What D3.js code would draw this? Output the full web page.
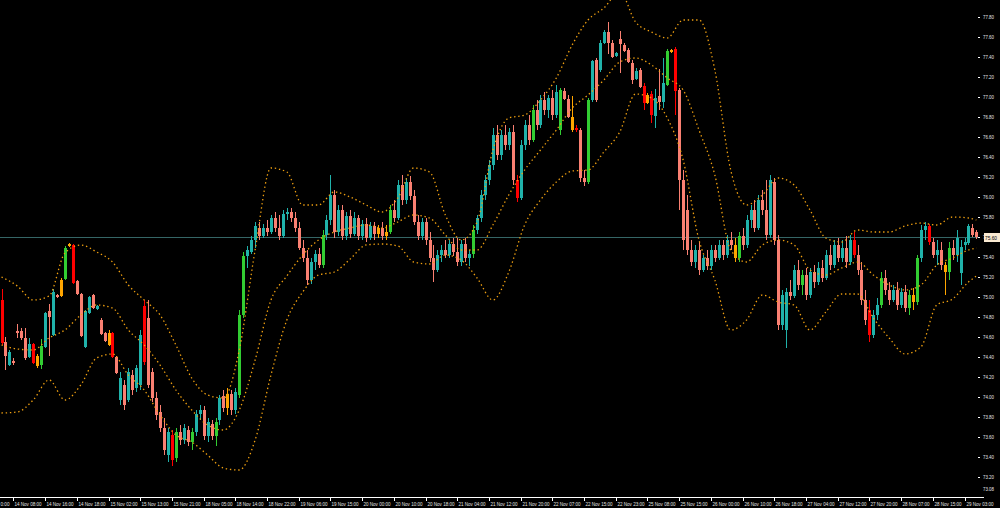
<!DOCTYPE html>
<html><head><meta charset="utf-8">
<script src="https://cdn.jsdelivr.net/npm/d3@7"></script>
<style>html,body{margin:0;padding:0;background:#000;}svg{display:block;}</style>
</head><body>
<svg id="c" width="1000" height="508"></svg>
<script>
const open = [74.97,74.55,74.32,74.36,74.66,74.66,74.59,74.40,74.53,74.41,
74.32,74.50,74.86,74.62,75.02,75.17,75.18,75.53,75.52,75.16,
75.03,74.50,74.84,75.02,74.88,74.77,74.64,74.64,74.64,74.40,
73.97,74.12,73.97,74.22,74.09,74.12,74.91,74.79,74.25,73.99,
73.85,73.69,73.42,73.62,73.39,73.65,73.57,73.67,73.55,73.65,
73.83,73.87,73.61,73.73,73.61,73.77,74.01,73.89,74.03,73.87,
74.02,74.82,75.41,75.45,75.57,75.69,75.61,75.69,75.65,75.79,
75.69,75.61,75.83,75.85,75.79,75.69,75.49,75.39,75.17,75.35,
75.43,75.32,75.62,75.77,76.02,75.65,75.87,75.61,75.81,75.63,
75.79,75.61,75.73,75.59,75.71,75.63,75.69,75.61,75.65,75.87,
75.79,76.12,75.97,76.15,76.01,75.75,75.61,75.75,75.57,75.39,
75.27,75.42,75.47,75.42,75.53,75.45,75.35,75.53,75.39,75.43,
75.67,75.79,76.02,76.17,76.32,76.62,76.42,76.62,76.52,76.65,
76.17,75.99,76.52,76.72,76.57,76.87,76.72,76.97,76.87,76.99,
76.82,76.67,77.06,76.98,76.80,76.69,76.67,76.19,76.15,76.97,
77.37,77.27,77.54,77.65,77.54,77.41,77.58,77.52,77.47,77.34,
77.18,77.27,77.11,77.02,77.03,76.81,77.01,76.95,77.12,77.47,
77.48,77.07,76.17,75.87,75.47,75.35,75.47,75.27,75.39,75.31,
75.47,75.39,75.52,75.42,75.57,75.52,75.39,75.61,75.52,75.77,
75.87,75.69,75.97,75.87,75.62,76.15,75.57,74.72,74.67,75.05,
75.01,75.27,75.12,75.22,75.02,75.25,75.15,75.29,75.19,75.42,
75.32,75.52,75.39,75.49,75.35,75.57,75.42,75.27,74.97,74.87,
74.62,74.82,74.92,75.19,75.07,74.97,75.07,74.92,75.05,74.89,
75.02,74.95,75.39,75.67,75.71,75.55,75.42,75.47,75.32,75.25,
75.49,75.42,75.24,75.52,75.54,75.69,75.65];
const high = [75.08,74.60,74.47,74.39,74.73,74.69,74.69,74.59,74.54,74.43,
74.58,74.85,74.93,75.08,75.03,75.19,75.51,75.54,75.53,75.17,
75.04,74.87,75.01,75.03,74.92,74.79,74.65,74.67,74.65,74.41,
74.25,74.17,74.29,74.27,74.32,74.67,74.97,74.97,74.29,74.05,
73.92,73.79,73.69,73.67,73.69,73.72,73.73,73.71,73.69,73.87,
73.92,73.91,73.79,73.77,73.79,74.02,74.07,74.09,74.07,74.09,
74.87,75.45,75.51,75.61,75.75,75.75,75.73,75.77,75.82,75.85,
75.82,75.87,75.89,75.89,75.85,75.75,75.57,75.47,75.39,75.47,
75.49,75.67,75.82,76.22,76.07,75.92,75.92,75.85,75.87,75.85,
75.82,75.77,75.79,75.75,75.75,75.72,75.75,75.72,75.92,75.97,
76.17,76.22,76.19,76.21,76.07,75.82,75.79,75.79,75.65,75.52,
75.47,75.52,75.57,75.57,75.59,75.59,75.57,75.59,75.47,75.72,
75.82,76.07,76.22,76.37,76.69,76.72,76.67,76.72,76.69,76.72,
76.22,76.57,76.77,76.82,76.92,76.97,77.02,77.05,77.02,77.07,
77.12,77.09,77.09,77.02,77.01,76.72,76.69,76.27,76.99,77.37,
77.39,77.57,77.67,77.75,77.57,77.45,77.66,77.54,77.49,77.37,
77.29,77.29,77.14,77.04,77.06,77.08,77.28,77.39,77.48,77.48,
77.50,77.09,76.27,76.02,75.57,75.52,75.55,75.42,75.47,75.52,
75.52,75.57,75.57,75.62,75.65,75.59,75.65,75.69,75.82,75.92,
75.97,76.02,76.07,76.17,76.22,76.19,75.62,75.07,75.09,75.17,
75.32,75.37,75.27,75.29,75.29,75.32,75.35,75.37,75.47,75.52,
75.57,75.59,75.57,75.61,75.62,75.65,75.52,75.35,75.07,74.97,
74.87,74.99,75.25,75.27,75.15,75.12,75.15,75.09,75.12,75.07,
75.09,75.42,75.72,75.75,75.73,75.59,75.57,75.55,75.35,75.55,
75.57,75.67,75.57,75.59,75.73,75.73,75.67];
const low = [74.52,74.27,74.31,74.32,74.59,74.57,74.37,74.39,74.33,74.29,
74.28,74.49,74.41,74.61,74.99,75.00,75.17,75.50,75.13,75.02,
74.60,74.49,74.83,74.88,74.87,74.62,74.55,74.51,74.39,74.23,
73.92,73.87,73.95,74.02,74.05,74.07,74.32,74.09,73.95,73.77,
73.65,73.42,73.35,73.31,73.35,73.52,73.53,73.51,73.47,73.61,
73.77,73.57,73.55,73.57,73.51,73.72,73.85,73.82,73.82,73.83,
73.99,74.79,75.29,75.43,75.49,75.57,75.59,75.61,75.63,75.65,
75.57,75.59,75.77,75.75,75.65,75.47,75.35,75.12,75.13,75.27,
75.29,75.29,75.57,75.72,75.59,75.61,75.57,75.57,75.59,75.61,
75.57,75.57,75.55,75.57,75.57,75.59,75.57,75.57,75.63,75.75,
75.77,75.92,75.93,75.97,75.72,75.57,75.57,75.52,75.35,75.15,
75.25,75.35,75.39,75.39,75.41,75.31,75.31,75.35,75.31,75.39,
75.63,75.75,75.97,76.12,76.27,76.37,76.37,76.47,76.47,76.12,
75.95,75.97,76.47,76.52,76.55,76.67,76.69,76.82,76.79,76.77,
76.79,76.62,76.97,76.79,76.65,76.65,76.15,76.11,76.13,76.95,
76.95,77.25,77.53,77.43,77.39,77.40,77.24,77.45,77.34,77.13,
77.17,77.09,76.87,76.93,76.74,76.69,76.87,76.89,77.11,77.44,
76.82,75.87,75.47,75.42,75.31,75.29,75.22,75.25,75.27,75.27,
75.35,75.37,75.37,75.39,75.47,75.35,75.35,75.47,75.49,75.69,
75.65,75.67,75.82,75.57,75.59,75.52,74.67,74.67,74.49,74.97,
74.99,75.07,75.02,74.97,74.99,75.09,75.12,75.15,75.17,75.27,
75.29,75.35,75.35,75.29,75.32,75.39,75.22,74.92,74.72,74.55,
74.59,74.77,74.89,75.02,74.92,74.95,74.87,74.89,74.85,74.82,
74.87,74.92,75.35,75.57,75.52,75.39,75.32,75.27,75.02,75.17,
75.37,75.35,75.12,75.47,75.52,75.60,75.58];
const close = [74.54,74.41,74.45,74.34,74.64,74.59,74.39,74.53,74.34,74.31,
74.51,74.84,74.80,75.05,75.00,75.01,75.49,75.51,75.14,75.03,
74.61,74.86,75.00,74.89,74.91,74.63,74.56,74.52,74.40,74.24,
74.19,73.92,74.25,74.07,74.29,74.62,74.35,74.12,73.99,73.82,
73.69,73.47,73.65,73.37,73.65,73.57,73.69,73.55,73.65,73.83,
73.87,73.61,73.75,73.61,73.75,73.99,73.89,74.03,73.87,74.05,
74.82,75.41,75.47,75.57,75.71,75.61,75.69,75.65,75.79,75.69,
75.61,75.83,75.85,75.79,75.69,75.49,75.39,75.17,75.35,75.43,
75.32,75.62,75.77,76.02,75.65,75.87,75.61,75.81,75.63,75.79,
75.61,75.73,75.59,75.71,75.63,75.69,75.61,75.65,75.87,75.79,
76.12,75.97,76.15,76.01,75.75,75.61,75.75,75.57,75.39,75.27,
75.42,75.47,75.42,75.53,75.45,75.35,75.53,75.39,75.43,75.67,
75.79,76.02,76.17,76.32,76.62,76.42,76.62,76.52,76.65,76.17,
75.99,76.52,76.72,76.57,76.87,76.72,76.97,76.87,76.99,76.82,
77.05,77.07,76.98,76.80,76.67,76.67,76.19,76.15,76.97,77.36,
76.97,77.54,77.65,77.54,77.40,77.44,77.53,77.46,77.35,77.17,
77.26,77.10,76.94,76.94,76.82,76.99,76.95,77.14,77.46,77.45,
77.06,76.17,75.57,75.47,75.35,75.47,75.27,75.39,75.31,75.47,
75.39,75.52,75.42,75.57,75.52,75.39,75.61,75.52,75.77,75.87,
75.69,75.97,75.87,75.62,76.17,75.57,74.72,75.02,75.05,75.01,
75.27,75.12,75.22,75.02,75.25,75.15,75.29,75.19,75.42,75.32,
75.52,75.39,75.49,75.35,75.57,75.42,75.27,74.97,74.77,74.62,
74.82,74.92,75.19,75.07,74.97,75.07,74.92,75.05,74.89,75.02,
74.95,75.39,75.67,75.71,75.55,75.42,75.47,75.32,75.25,75.49,
75.42,75.59,75.50,75.55,75.71,75.62,75.60];
// U=up, D=down, G=strong up, R=strong down, O=neutral
const kind = ("RDUDDDDURO"+"GUDUDOGORD"+"DUUDUDDORD"+"UDUDUURDDD"+"DDURGDUDGU"+"UDUDGUDODU"+
"GGUUUDUDUD"+"DUUDDDDDUU"+"DGUUDUDUDU"+"DUDUDODOGD"+"UDUDDDUDDD"+"UUDUDDUDUG"+
"UUUUUDUDUD"+"RUUDGDUDUD"+"UGDDORDDGU"+"DUUDDUDDDD"+"UDRORUDUGO"+"RDDDDUDUDU"+
"DUDUDOGDUU"+"DUDDUDDUUD"+"UDGDUDUDUD"+"UDUDURDDDR"+"UUGDDUDUDG"+"OGUURDUDOG"+"DUUUUDD").split("");

const bandBars = [0,4,8,12,16,20,24,28,32,36,40,44,48,52,56,60,64,68,72,76,80,84,88,92,96,100,104,108,112,116,120,124,128,132,136,140,144,148,152,156,160,164,168,172,176,180,184,188,192,196,200,204,208,212,216,220,224,228,232,236,240,244,246];
const bandUpper = [75.20,75.11,74.97,75.01,75.44,75.52,75.45,75.35,75.12,74.97,
74.82,74.52,74.19,74.02,73.99,74.47,75.47,76.29,76.25,75.92,
75.92,76.05,76.00,75.92,75.85,75.99,76.29,76.25,75.82,75.57,
75.75,76.47,76.79,76.82,76.97,77.19,77.52,77.77,77.89,78.05,
77.75,77.65,77.59,77.77,77.77,77.27,76.27,75.92,76.02,76.19,
76.12,75.87,75.59,75.55,75.67,75.65,75.65,75.71,75.74,75.72,
75.80,75.79,75.77];
const bandMiddle = [74.52,74.48,74.47,74.59,74.67,74.82,74.92,74.89,74.67,74.52,
74.32,74.07,73.87,73.72,73.67,73.87,74.37,74.97,75.21,75.42,
75.57,75.65,75.69,75.72,75.69,75.75,75.82,75.79,75.62,75.47,
75.47,75.72,76.02,76.27,76.47,76.67,76.89,77.02,77.17,77.35,
77.39,77.32,77.19,77.07,76.67,76.22,75.47,75.35,75.52,75.57,
75.52,75.27,75.22,75.29,75.35,75.22,75.12,75.07,75.12,75.32,
75.39,75.47,75.49];
const bandLower = [73.84,73.85,73.97,74.17,73.97,74.12,74.39,74.43,74.22,74.07,
73.82,73.62,73.55,73.42,73.29,73.27,73.57,74.22,74.77,75.05,
75.22,75.25,75.38,75.52,75.53,75.51,75.35,75.33,75.42,75.37,
75.19,74.97,75.25,75.72,75.97,76.15,76.26,76.27,76.45,76.65,
77.03,76.99,76.79,76.37,75.57,75.17,74.67,74.77,75.02,74.95,
74.92,74.67,74.85,75.03,75.03,74.79,74.59,74.43,74.50,74.92,
74.98,75.15,75.21];

const priceTicks = [77.80,77.60,77.40,77.20,77.00,76.80,76.60,76.40,76.20,76.00,75.80,75.60,75.40,75.20,75.00,74.80,74.60,74.40,74.20,74.00,73.80,73.60,73.40,73.20];
const bottomPrice = 73.08;
const timeBars = [-5,3,11,19,27,35,43,51,59,67,75,83,91,99,107,115,123,131,139,147,155,163,171,179,187,195,203,211,219,227,235,243];
const timeLabels = ["0:00","14 Nov 08:00","14 Nov 16:00","14 Nov 18:00","15 Nov 02:00","15 Nov 13:00","15 Nov 21:00","18 Nov 05:00","18 Nov 14:00","18 Nov 22:00","19 Nov 06:00","19 Nov 15:00","20 Nov 00:00","20 Nov 10:00","20 Nov 18:00","21 Nov 04:00","21 Nov 12:00","21 Nov 20:00","22 Nov 07:00","22 Nov 15:00","22 Nov 23:00","25 Nov 08:00","25 Nov 15:00","26 Nov 00:00","26 Nov 10:00","26 Nov 18:00","27 Nov 04:00","27 Nov 12:00","27 Nov 20:00","28 Nov 07:00","28 Nov 15:00","29 Nov 03:00"];

const FONT = "Liberation Sans, Arial, sans-serif";
const svg = d3.select("#c");
svg.append("rect").attr("width",1000).attr("height",508).attr("fill","#000");
const x = d3.scaleLinear().domain([0,246]).range([1.5,976.4]);
const y = d3.scaleLinear().domain([73,78]).range([497,-3]);
const col = d3.scaleOrdinal().domain(["U","D","G","R","O"]).range(["#20B2AA","#FA8072","#32CD32","#FF0000","#FFA500"]);

svg.append("defs").append("clipPath").attr("id","clip").append("rect").attr("x",0).attr("y",0).attr("width",979).attr("height",497);
const plot = svg.append("g").attr("clip-path","url(#clip)");

const bid = close[close.length-1];
plot.append("line").attr("x1",0).attr("x2",979).attr("y1",Math.round(y(bid))+0.5).attr("y2",Math.round(y(bid))+0.5)
  .attr("stroke","#356666").attr("stroke-width",1);

const candles = close.map((c,i)=>({i,o:open[i],h:high[i],l:low[i],c,k:kind[i]}));
const cx = d => Math.round(x(d.i));
plot.selectAll("line.w").data(candles).join("line").attr("class","w")
  .attr("x1",d=>cx(d)+0.5).attr("x2",d=>cx(d)+0.5)
  .attr("y1",d=>y(d.h)).attr("y2",d=>y(d.l))
  .attr("stroke",d=>col(d.k)).attr("stroke-width",1);
plot.selectAll("rect.b").data(candles).join("rect").attr("class","b")
  .attr("x",d=>cx(d)-1).attr("width",3)
  .attr("y",d=>y(Math.max(d.o,d.c)))
  .attr("height",d=>Math.max(1,Math.abs(y(d.o)-y(d.c))))
  .attr("fill",d=>col(d.k));

const bands = bandBars.map((b,j)=>({b,u:bandUpper[j],m:bandMiddle[j],l:bandLower[j]}));
["u","m","l"].forEach(k=>{
  plot.append("path").datum(bands)
    .attr("d",d3.line().x(d=>x(d.b)).y(d=>y(d[k])).curve(d3.curveMonotoneX))
    .attr("fill","none").attr("stroke","#F0A010").attr("stroke-width",1.3)
    .attr("stroke-dasharray","1.4,2.8");
});

// bottom axis
svg.append("line").attr("x1",0).attr("x2",984).attr("y1",497.5).attr("y2",497.5).attr("stroke","#fff").attr("stroke-width",1);
const tg = svg.append("g");
timeBars.forEach((b,j)=>{
  const xx = Math.round(x(b));
  const t = tg.append("text").attr("y",505.5).text(timeLabels[j])
    .attr("fill","#e6e6e6").attr("font-family",FONT).attr("font-size",5.5)
    .attr("lengthAdjust","spacingAndGlyphs");
  if (xx < 0) {
    t.attr("x",0.5).attr("textLength",9);
  } else {
    tg.append("line").attr("x1",xx+0.5).attr("x2",xx+0.5).attr("y1",498).attr("y2",501).attr("stroke","#fff");
    t.attr("x",xx+1.5).attr("textLength",27);
  }
});

// right price labels
const pg = svg.append("g");
priceTicks.forEach(p=>{
  const yy = Math.round(y(p));
  pg.append("line").attr("x1",978).attr("x2",980).attr("y1",yy+0.5).attr("y2",yy+0.5).attr("stroke","#fff");
  pg.append("text").attr("x",983).attr("y",yy+2).text(p.toFixed(2))
    .attr("fill","#e6e6e6").attr("font-family",FONT).attr("font-size",5.5)
    .attr("textLength",11).attr("lengthAdjust","spacingAndGlyphs");
});
pg.append("text").attr("x",983).attr("y",Math.round(y(bottomPrice))+2).text(bottomPrice.toFixed(2))
  .attr("fill","#e6e6e6").attr("font-family",FONT).attr("font-size",5.5)
  .attr("textLength",11).attr("lengthAdjust","spacingAndGlyphs");
// bid box
const by = Math.round(y(bid));
svg.append("rect").attr("x",984).attr("y",by-4).attr("width",16).attr("height",9).attr("fill","#FBEBD3");
svg.append("text").attr("x",985).attr("y",by+2.5).text(bid.toFixed(2))
  .attr("fill","#000").attr("font-family",FONT).attr("font-size",5.5)
  .attr("textLength",12).attr("lengthAdjust","spacingAndGlyphs");
</script>
</body></html>
